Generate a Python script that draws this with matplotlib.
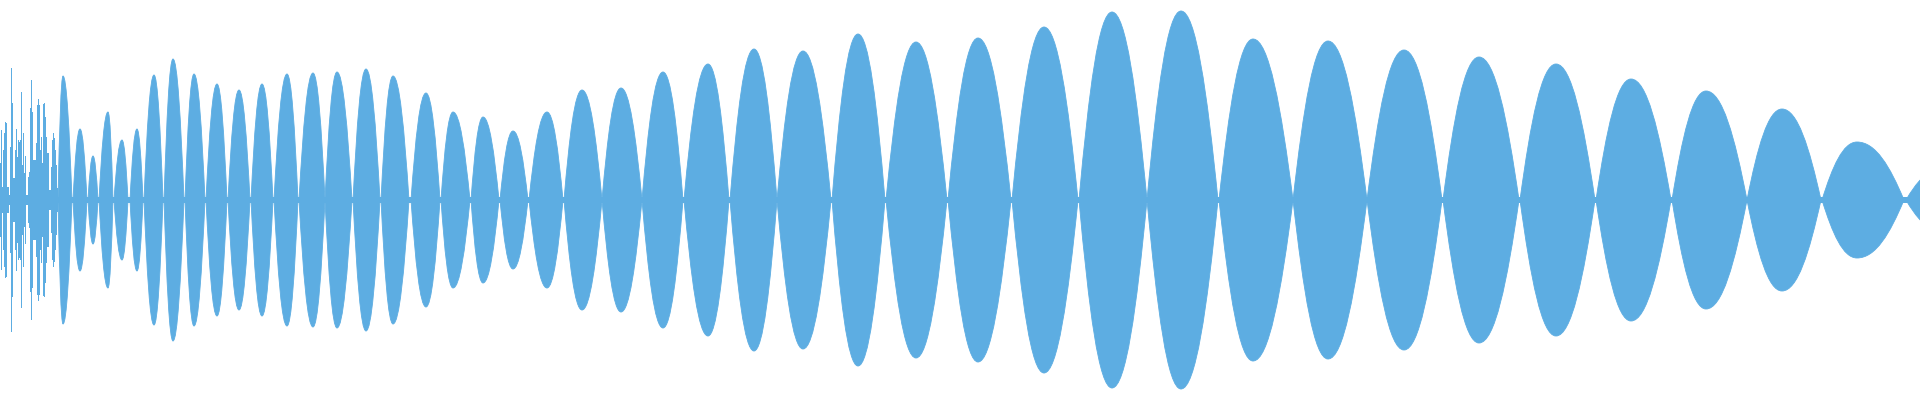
"""Audio waveform overview, drawn as a mirrored envelope."""

import matplotlib

matplotlib.use("Agg")
import matplotlib.pyplot as plt
from matplotlib.path import Path
from matplotlib.patches import PathPatch


WAVE_COLOR = "#5dade2"
FULL_SCALE = 200  # level units at the top / bottom edge
FLOOR = 3  # residual level between beats

# noisy attack, one level per sample column (0..57)
attack_levels = [
    37, 70, 13, 50, 67, 78, 77, 13, 13, 5,
    53, 132, 97, 22, 22, 50, 71, 43, 60, 58,
    60, 108, 35, 67, 27, 44, 5, 5, 23, 28,
    92, 120, 88, 40, 40, 40, 57, 95, 101, 95,
    50, 63, 37, 96, 97, 83, 63, 47, 47, 10,
    10, 33, 60, 67, 62, 50, 35, 12,
]

# beat lobes after the attack: start, crest position, end, crest level
lobe_start = [
    58, 73, 88, 99, 114, 130, 144, 164, 185, 206, 228, 251, 274, 299, 325,
    353, 381, 411, 441, 471, 500, 529, 564, 602, 642, 684, 730, 777, 832,
    886, 948, 1012, 1079, 1147, 1219, 1293, 1367, 1443, 1520, 1596, 1672,
    1747, 1822, 1906,
]
lobe_crest_at = [
    63, 80, 93, 108, 122, 137, 154, 173, 194, 217, 239, 262, 287, 313, 337,
    366, 393, 426, 453, 483, 513, 547, 582, 621, 663, 708, 754, 803, 858,
    916, 978, 1044, 1112, 1181, 1253, 1328, 1404, 1479, 1556, 1631, 1706,
    1782, 1857, 1940,
]
lobe_end = [
    72, 87, 98, 113, 128, 143, 163, 184, 205, 227, 250, 273, 298, 325, 352,
    380, 409, 440, 470, 499, 528, 563, 602, 642, 683, 729, 777, 831, 885,
    947, 1011, 1078, 1147, 1218, 1293, 1367, 1442, 1519, 1595, 1671, 1747,
    1821, 1904, 1975,
]
lobe_crest = [
    124, 71, 44, 88, 60, 71, 125, 141, 126, 116, 110, 116, 126, 127, 128,
    131, 124, 107, 88, 83, 69, 88, 110, 112, 128, 136, 151, 149, 166,
    158, 162, 173, 188, 189, 161, 159, 150, 143, 136, 121, 109,
    91, 58, 30,
]


def lobe_path(x0, xp, x1, amp):
    # rounded sine-like rise and fall, mirrored about zero
    def rise(a, b, h):
        w = b - a
        return [(a + 0.30 * w, 0.58 * h), (b - 0.40 * w, h), (b, h)]

    def fall(a, b, h):
        w = b - a
        return [(a + 0.40 * w, h), (b - 0.30 * w, 0.58 * h), (b, 0)]

    verts = [(x0, 0)]
    verts += rise(x0, xp, amp)
    verts += fall(xp, x1, amp)
    # back along the lower half
    lower = [(x, -y) for x, y in verts[::-1]]
    verts += lower[1:]
    codes = [Path.MOVETO] + [Path.CURVE4] * (len(verts) - 1)
    return Path(verts, codes)


fig = plt.figure(figsize=(19.2, 4), dpi=100)
ax = fig.add_axes([0, 0, 1, 1])

# centre line that stays between beats
ax.axhspan(-FLOOR, FLOOR, color=WAVE_COLOR, lw=0)

xs = list(range(len(attack_levels)))
ax.bar(
    xs,
    [2 * v for v in attack_levels],
    bottom=[-v for v in attack_levels],
    width=1.0,
    align="edge",
    color=WAVE_COLOR,
    linewidth=0,
)

for x0, xp, x1, amp in zip(lobe_start, lobe_crest_at, lobe_end, lobe_crest):
    ax.add_patch(PathPatch(lobe_path(x0, xp, x1, amp), facecolor=WAVE_COLOR,
                           edgecolor=WAVE_COLOR, lw=0.6))

ax.set_xlim(0, 1920)
ax.set_ylim(-FULL_SCALE, FULL_SCALE)
ax.axis("off")

fig.savefig("out.png", dpi=100, facecolor="white")
